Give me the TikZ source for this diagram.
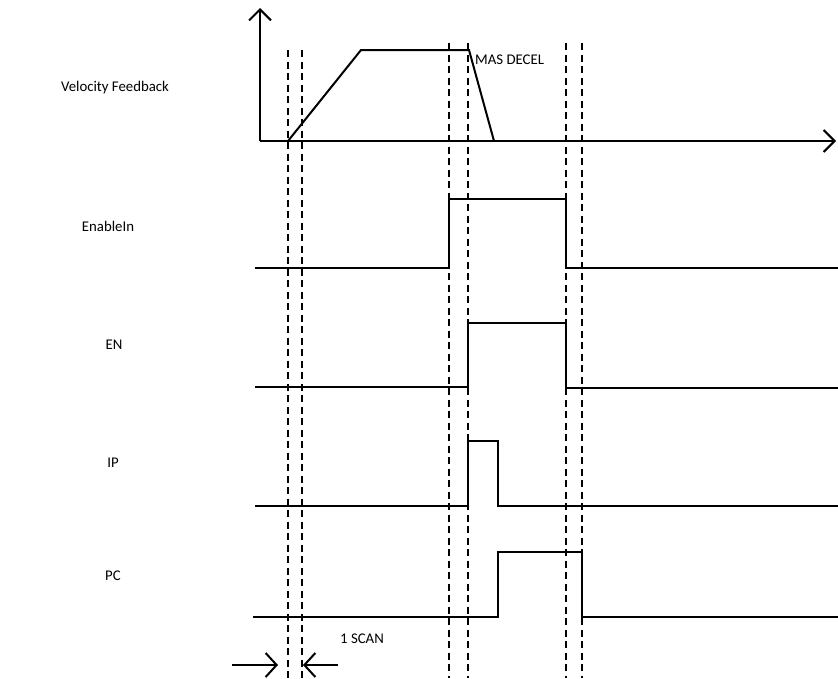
\documentclass[tikz,border=0pt]{standalone}
\usepackage{fontspec}
\setmainfont{Carlito}
\usetikzlibrary{arrows.meta}
\begin{document}
\begin{tikzpicture}[x=1pt,y=-1pt,
  lbl/.style={font=\fontsize{14.8}{16}\selectfont, inner sep=0pt},
  sig/.style={line width=1.8pt},
  axis/.style={line width=2.4pt},
  guide/.style={line width=1.7pt, dash pattern=on 7pt off 4.5pt},
  barb/.style={-{Straight Barb[length=11pt,width=22pt,line width=2pt]}}
]
\useasboundingbox (0,0) rectangle (838,678);

% labels
\node[lbl] (vf) at (115,88) {Velocity Feedback};
\node[lbl] (ei) at (108,226) {EnableIn};
\node[lbl] (en) at (114,345) {EN};
\node[lbl] (ip) at (113,463) {IP};
\node[lbl] (pc) at (113,576) {PC};
\node[lbl, anchor=west] (md) at (475,60) {MAS DECEL};
\node[lbl] (scan) at (362,639) {1 SCAN};

% guide lines
\draw[guide] (288,50) -- (288,678);
\draw[guide] (302,50) -- (302,678);
\draw[guide] (449,43) -- (449,678);
\draw[guide] (468,43) -- (468,678);
\draw[guide] (566,43) -- (566,678);
\draw[guide] (582,43) -- (582,678);

% velocity axes
\coordinate (o) at (260,141);
\coordinate (ytop) at (260,8);
\coordinate (xend) at (836,141);
\draw[axis, barb] (o) -- (ytop);
\draw[axis, barb] (o) -- (xend);
\draw[sig, line width=2pt] (288,141) -- (361,50) -- (469,50) -- (494,141);

% EnableIn
\draw[sig] (255,268) -- (449,268) -- (449,199) -- (566,199) -- (566,268) -- (838,268);
% EN
\draw[sig] (255,387) -- (468,387) -- (468,323) -- (566,323) -- (566,388) -- (838,388);
% IP
\draw[sig] (255,506) -- (468,506) -- (468,441) -- (498,441) -- (498,506) -- (838,506);
% PC
\draw[sig] (253,617) -- (498,617) -- (498,552) -- (582,552) -- (582,617) -- (838,617);

% 1 scan arrows
\coordinate (la) at (232,665);
\coordinate (lb) at (278,665);
\coordinate (ra) at (338,665);
\coordinate (rb) at (303,665);
\draw[line width=2pt, -{Straight Barb[length=11pt,width=24pt,line width=2pt]}] (la) -- (lb);
\draw[line width=2pt, -{Straight Barb[length=11pt,width=24pt,line width=2pt]}] (ra) -- (rb);
\end{tikzpicture}
\end{document}
